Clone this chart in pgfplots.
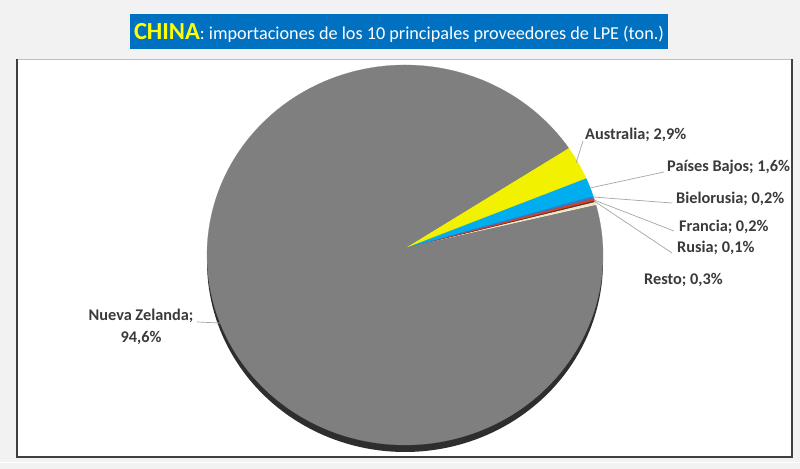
\documentclass[border=0pt]{standalone}
\usepackage{pgfplots}
\pgfplotsset{compat=1.18}
\usepackage{fontspec}
\setmainfont{Carlito}
\definecolor{bgc}{HTML}{F2F2F2}
\definecolor{frame}{HTML}{404040}
\definecolor{frametop}{HTML}{BFBFBF}
\definecolor{titleblue}{HTML}{0070C0}
\definecolor{titleyellow}{HTML}{FFFF00}
\definecolor{pieg}{HTML}{7F7F7F}
\definecolor{pieshadow}{HTML}{2E2E2E}
\definecolor{cAus}{HTML}{F2F200}
\definecolor{cPB}{HTML}{00AEEF}
\definecolor{cBie}{HTML}{3F78C0}
\definecolor{cFra}{HTML}{E53A1C}
\definecolor{cRus}{HTML}{3A3A3A}
\definecolor{cRes}{HTML}{F3E4C6}
\definecolor{leader}{HTML}{A6A6A6}
\definecolor{labc}{HTML}{3A3A3A}

% pie slices: start angle, value (%), total of the shares
\def\cum{15.2}
\newcommand\slice[2]{%
  \pgfmathsetmacro\sa{\cum}%
  \pgfmathsetmacro\sb{\cum+(#2/99.9)*360}%
  \pgfmathtruncatemacro\ns{max(4,(#2)*3)}%
  \edef\temp{\noexpand\addplot[draw=#1,line width=0.2pt,fill=#1,domain=\sa:\sb,samples=\ns]
    ({405+198*cos(x)},{214+190*sin(x)}) -- (axis cs:405,221) -- cycle;}%
  \temp
  \global\let\cum\sb}

\begin{document}
\begin{tikzpicture}[x=1bp,y=1bp]
\useasboundingbox (0,0) rectangle (800,469);
\fill[bgc] (0,0) rectangle (800,469);
\fill[white] (17,12) rectangle (792,410);
\draw[frametop,line width=0.8pt] (17,410) -- (792,410);
\draw[frame,line width=1.4pt] (17,410) -- (17,12) -- (792,12) -- (792,410);
\draw[white,line width=1pt] (0,6) -- (800,6);
\begin{axis}[
  anchor=origin, at={(0,0)},
  width=800bp, height=469bp, scale only axis,
  xmin=0, xmax=800, ymin=0, ymax=469,
  hide axis, clip=false,
]
% 3D edge of the pie
\addplot[draw=none,fill=pieshadow,domain=0:360,samples=200]
  ({405+198*cos(x)},{207+190*sin(x)}) -- cycle;
% slices, counter-clockwise from the end of "Resto"
\slice{cRes}{0.3}
\slice{cRus}{0.1}
\slice{cFra}{0.2}
\slice{cBie}{0.2}
\slice{cPB}{1.6}
\slice{cAus}{2.9}
\slice{pieg}{94.6}

% leader lines
\addplot[leader,line width=0.7pt] coordinates {(583,328) (576,306)};
\addplot[leader,line width=0.7pt] coordinates {(664,297) (590,281)};
\addplot[leader,line width=0.7pt] coordinates {(672,266) (593,272)};
\addplot[leader,line width=0.7pt] coordinates {(674,238) (594,269)};
\addplot[leader,line width=0.7pt] coordinates {(672,216) (594,268)};
\addplot[leader,line width=0.7pt] coordinates {(197,147) (220,146)};

\end{axis}
\begin{scope}[every node/.style={text=labc,font=\bfseries\fontsize{16.3bp}{19bp}\selectfont,inner sep=0pt}]
\node[anchor=west] at (585,334) {Australia; 2,9\%};
\node[anchor=west] at (667,302) {Países Bajos; 1,6\%};
\node[anchor=west] at (676,270) {Bielorusia; 0,2\%};
\node[anchor=west] at (679,242) {Francia; 0,2\%};
\node[anchor=west] at (677,221) {Rusia; 0,1\%};
\node[anchor=west] at (644,189) {Resto; 0,3\%};
\node[align=center,font=\bfseries\fontsize{16.3bp}{22bp}\selectfont] at (141,142) {Nueva Zelanda;\\94,6\%};
\end{scope}
\node[fill=titleblue,minimum width=538bp,minimum height=35bp,inner sep=0pt] at (399,437.5) {};
\node[inner sep=0pt] at (399,436)
  {{\bfseries\fontsize{24.5bp}{27bp}\selectfont\color{titleyellow}CHINA}{\fontsize{18.2bp}{21bp}\selectfont\color{white}: importaciones de los 10 principales proveedores de LPE (ton.)}};
\end{tikzpicture}
\end{document}
